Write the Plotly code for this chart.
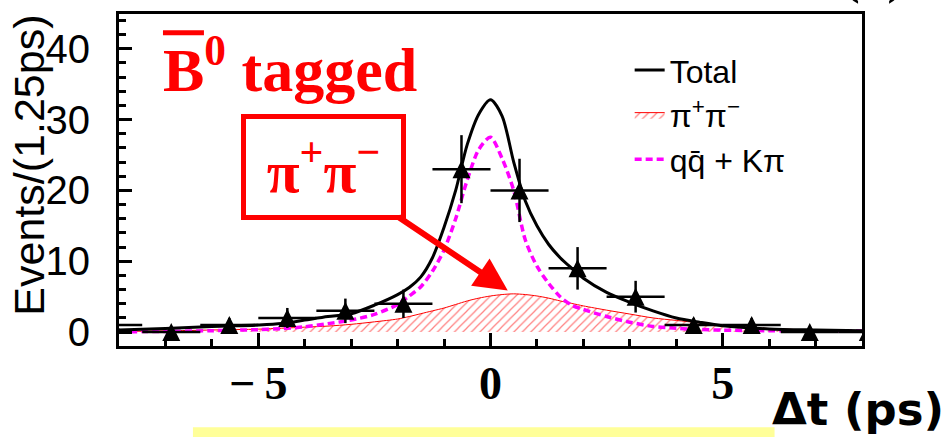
import plotly.graph_objects as go

# Measured Δt histogram (1.25 ps bins)
bin_centers = [-8.125, -6.875, -5.625, -4.375, -3.125, -1.875, -0.625,
               0.625, 1.875, 3.125, 4.375, 5.625, 6.875, 8.125]
counts = [1, 0, 1, 2, 3, 4, 23, 20, 9, 5, 1, 1, 0, 0]
count_errors = [1.0, 0, 1.0, 1.41, 1.73, 2.0, 4.8, 4.47, 3.0, 2.24, 1.0, 1.0, 0, 0]
bin_half_width = 0.625

# Fit projections sampled along Δt
curve_t = [-8, -7, -6, -5, -4.5, -4, -3.5, -3, -2.5, -2, -1.75, -1.5, -1.25, -1,
           -0.75, -0.5, -0.25, 0, 0.25, 0.5, 0.75, 1, 1.25, 1.5, 1.75, 2, 2.5,
           3, 3.5, 4, 4.5, 5, 6, 7, 8]
total_fit = [0.3, 0.5, 0.8, 1.0, 1.2, 1.7, 2.2, 2.6, 3.8, 5.3, 6.3, 7.8, 10.5, 14.8,
             20.0, 26.5, 30.8, 32.8, 30.5, 24.0, 18.5, 15.0, 12.4, 10.5, 9.0, 7.6, 5.6,
             4.2, 3.0, 2.0, 1.4, 0.9, 0.45, 0.3, 0.2]
bkg_fit = [0.05, 0.1, 0.2, 0.35, 0.5, 0.75, 1.2, 1.7, 2.5, 3.9, 5.1, 6.4, 8.6, 11.6,
           16.0, 21.5, 25.8, 27.5, 24.5, 20.0, 13.0, 9.3, 6.9, 5.0, 3.8, 3.2, 2.2,
           1.4, 0.8, 0.55, 0.37, 0.28, 0.2, 0.15, 0.15]
pipi_fit = [0.1, 0.17, 0.3, 0.42, 0.55, 0.7, 0.85, 1.1, 1.45, 1.85, 2.2, 2.6, 3.0, 3.4,
            3.9, 4.4, 4.8, 5.1, 5.3, 5.4, 5.3, 5.1, 4.8, 4.4, 4.05, 3.7, 3.1,
            2.55, 2.0, 1.65, 1.3, 0.95, 0.5, 0.3, 0.2]

x_ticks = [-5, 0, 5]
x_tick_text = ["\u2212\u20095", "0", "5"]

W, H = 952, 437
L, R, T, B = 119, 89.5, 11, 91
PW, PH = W - L - R, H - T - B


def px(x):
    return (x - L) / PW


def py(y):
    return (H - B - y) / PH


fig = go.Figure()

fig.add_trace(go.Scatter(
    x=curve_t, y=pipi_fit, mode="lines", name="π<sup>+</sup>π<sup>−</sup>",
    line=dict(color="red", width=1, shape="spline", smoothing=0.8),
    fill="tozeroy", fillcolor="rgba(0,0,0,0)",
    fillpattern=dict(shape="/", fgcolor="red", bgcolor="rgba(0,0,0,0)",
                     size=6, solidity=0.2),
    legendrank=2,
))
fig.add_trace(go.Scatter(
    x=curve_t, y=bkg_fit, mode="lines", name="qq\u0304 + Kπ",
    line=dict(color="#FF00FF", width=3.5, dash="7px,4px", shape="spline", smoothing=0.8),
    legendrank=3,
))
fig.add_trace(go.Scatter(
    x=curve_t, y=total_fit, mode="lines", name="Total",
    line=dict(color="black", width=3, shape="spline", smoothing=0.8),
    legendrank=1,
))
fig.add_trace(go.Scatter(
    x=bin_centers, y=counts, mode="markers", showlegend=False,
    marker=dict(symbol="arrow-down", angle=180, standoff=9, size=18, color="black"),
    error_y=dict(type="data", array=count_errors, width=0, thickness=2.5, color="black"),
    error_x=dict(type="constant", value=bin_half_width, width=0, thickness=2.5, color="black"),
))

fig.update_xaxes(
    range=[-8, 8], showline=True, linewidth=3, linecolor="black", mirror=True,
    showgrid=False, zeroline=False,
    tickvals=x_ticks, ticktext=x_tick_text, ticks="inside", ticklen=13, tickwidth=3,
    tickcolor="black",
    minor=dict(ticks="inside", ticklen=7, tickwidth=2.5, tickcolor="black", dtick=1, tick0=0),
    tickfont=dict(family="Liberation Serif", size=46, color="black", weight="bold"),
    ticklabelstandoff=-5,
)
fig.update_yaxes(
    range=[-1.96, 44.9], showline=True, linewidth=3, linecolor="black", mirror=True,
    showgrid=False, zeroline=False,
    tick0=0, dtick=10, ticks="inside", ticklen=13, tickwidth=3, tickcolor="black",
    minor=dict(ticks="inside", ticklen=7, tickwidth=2.5, tickcolor="black", dtick=2, tick0=0),
    tickfont=dict(family="Liberation Sans", size=40, color="black"),
    ticklabelstandoff=18,
)

annotations = [
    dict(text="Events/(1.25ps)", textangle=-90, x=px(29), y=py(164),
         font=dict(family="Liberation Sans", size=43, color="black")),
    dict(text="<b>Δt (ps)</b>", x=px(947), y=py(410), xanchor="right",
         font=dict(family="DejaVu Sans", size=45, color="black")),
    dict(text="<b>B<sup>0</sup> tagged</b>", x=px(161), y=py(62), xanchor="left",
         font=dict(family="Liberation Serif", size=62, color="red")),
    dict(text="<b>π<sup>+</sup>π<sup>−</sup></b>", x=px(508), y=py(290),
         ax=323.5 - 508, ay=166 - 290, showarrow=True,
         arrowhead=2, arrowsize=1.1, arrowwidth=6, arrowcolor="red",
         bordercolor="red", borderwidth=5, borderpad=1, width=153, height=94,
         font=dict(family="Liberation Serif", size=60, color="red")),
    dict(text="<b>(b)</b>", x=px(874), y=py(-27),
         font=dict(family="Liberation Serif", size=50, color="black")),
]
for a in annotations:
    a.setdefault("xref", "paper")
    a.setdefault("yref", "paper")
    a.setdefault("showarrow", False)
    a.setdefault("yanchor", "middle")
    a.setdefault("xanchor", "center")

shapes = [
    dict(type="line", xref="paper", yref="paper", x0=px(163), x1=px(204),
         y0=py(30), y1=py(30), line=dict(color="red", width=5)),
    dict(type="rect", xref="paper", yref="paper", x0=px(193), x1=px(775),
         y0=py(428), y1=py(450), fillcolor="#FFFF99", line=dict(width=0)),
]

fig.update_layout(
    width=W, height=H, autosize=False,
    margin=dict(l=L, r=R, t=T, b=B, pad=0),
    paper_bgcolor="white", plot_bgcolor="white",
    annotations=annotations, shapes=shapes,
    legend=dict(x=px(630), y=py(40), xanchor="left", yanchor="top",
                bgcolor="rgba(0,0,0,0)", borderwidth=0,
                font=dict(family="Liberation Sans", size=32, color="black"),
                itemwidth=30, tracegroupgap=0),
)

fig.write_html("out.html")
